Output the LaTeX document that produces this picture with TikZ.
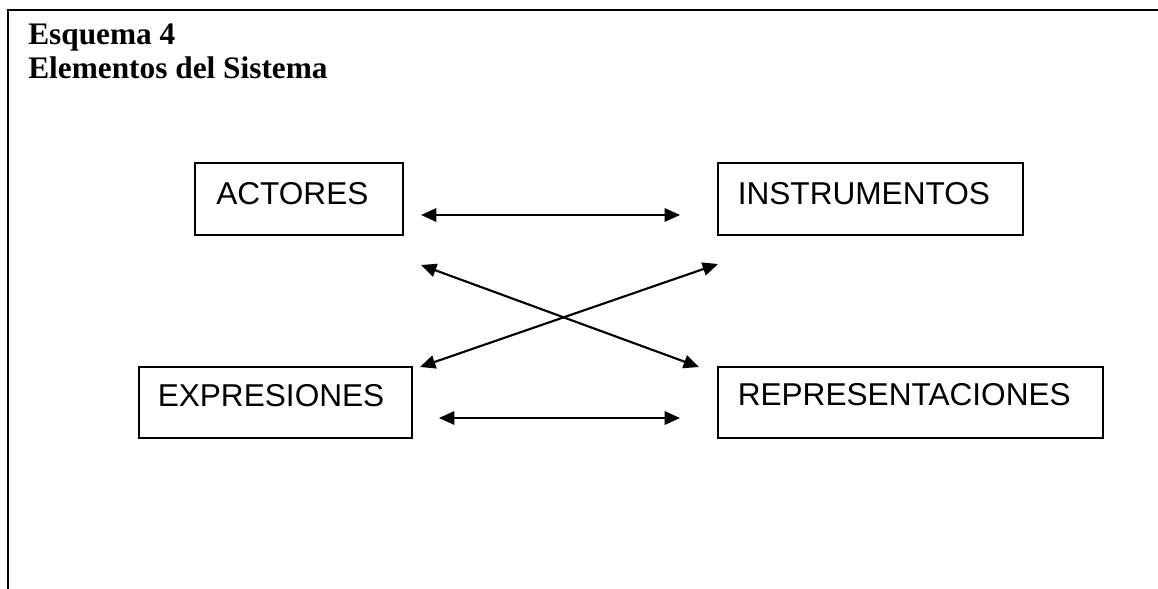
\documentclass[tikz,border=0pt]{standalone}
\usepackage{fontspec}
\setmainfont{Liberation Serif}
\newfontfamily\boxfont{Liberation Sans}
\usetikzlibrary{arrows.meta}
\begin{document}
\begin{tikzpicture}[x=0.75pt,y=-0.75pt,
  frame/.style={line width=2pt},
  elembox/.style={draw, line width=1pt, rectangle, inner sep=0pt},
  elemtext/.style={anchor=base west, inner sep=0pt, font=\boxfont\fontsize{23.7pt}{28pt}\selectfont},
  titletext/.style={anchor=base west, inner sep=0pt, font=\bfseries\fontsize{23.5pt}{27pt}\selectfont},
  link/.style={line width=1.6pt, {Triangle[length=11.5pt,width=10pt]}-{Triangle[length=11.5pt,width=10pt]}}
]
\useasboundingbox (0,0) rectangle (1158,589);
% open frame: left side and top
\draw[frame] (8,589) -- (8,10) -- (1158,10);
% heading
\node[titletext] (t1) at (28,45) {Esquema 4};
\node[titletext] (t2) at (28,78) {Elementos del Sistema};
% the four boxes
\node[elembox, minimum width=208*0.75pt, minimum height=72*0.75pt] (act) at (299,199) {};
\node[elembox, minimum width=305*0.75pt, minimum height=72*0.75pt] (ins) at (870.5,199) {};
\node[elembox, minimum width=273*0.75pt, minimum height=71*0.75pt] (exp) at (275.5,402.5) {};
\node[elembox, minimum width=385*0.75pt, minimum height=71*0.75pt] (rep) at (910.5,402.5) {};
\node[elemtext] (actT) at (216,204) {ACTORES};
\node[elemtext] (insT) at (737.5,204) {INSTRUMENTOS};
\node[elemtext] (expT) at (157.5,406) {EXPRESIONES};
\node[elemtext] (repT) at (737.5,405) {REPRESENTACIONES};
% arrow end points
\coordinate (a1) at (421,215); \coordinate (a2) at (680,215);
\coordinate (b1) at (439,418); \coordinate (b2) at (680,418);
\coordinate (c1) at (421,265); \coordinate (c2) at (699,367);
\coordinate (d1) at (420,367); \coordinate (d2) at (718,264);
\draw[link] (a1) -- (a2);
\draw[link] (b1) -- (b2);
\draw[link] (c1) -- (c2);
\draw[link] (d1) -- (d2);
\end{tikzpicture}
\end{document}
